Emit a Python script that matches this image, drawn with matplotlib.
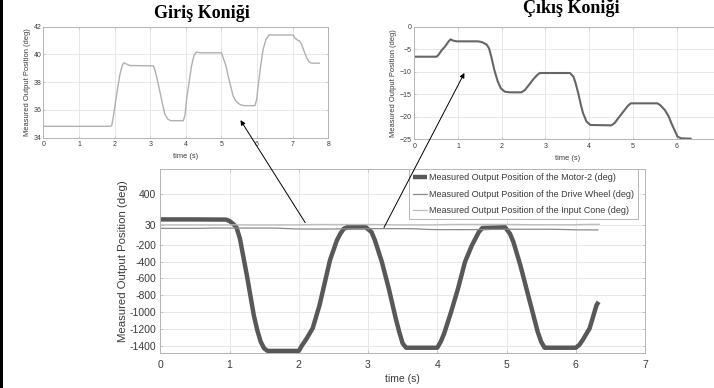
import matplotlib
matplotlib.use("Agg")
import matplotlib.pyplot as plt
from matplotlib.patches import FancyArrowPatch, Rectangle

plt.rcParams['font.family'] = ['Liberation Sans', 'DejaVu Sans']

# ---------------- data ----------------
t_in = [0, 1.85, 1.92, 1.96, 2.01, 2.08, 2.15, 2.21, 2.26, 2.36, 2.43, 3.09, 3.13, 3.2, 3.27,
        3.35, 3.41, 3.49, 3.57, 3.93, 3.98, 4.02, 4.09, 4.16, 4.23, 4.3, 4.4, 5.0, 5.05, 5.13,
        5.19, 5.26, 5.33, 5.41, 5.52, 5.63, 5.94, 5.99, 6.03, 6.1, 6.17, 6.25, 6.34, 6.45,
        7.02, 7.06, 7.13, 7.2, 7.25, 7.32, 7.39, 7.46, 7.53, 7.75]
input_cone = [34.82, 34.82, 34.87, 35.42, 36.27, 37.47, 38.55, 39.16, 39.4, 39.28, 39.2, 39.18,
              38.92, 38.19, 37.35, 36.39, 35.71, 35.35, 35.23, 35.22, 35.66, 36.75, 37.95, 39.16,
              39.93, 40.17, 40.12, 40.12, 39.76, 39.16, 38.43, 37.71, 36.99, 36.63, 36.39, 36.31,
              36.31, 36.75, 37.71, 39.16, 40.36, 41.08, 41.42, 41.4, 41.4, 41.2, 41.04, 40.96,
              40.72, 40.24, 39.76, 39.47, 39.37, 39.37]

t_dw = [0, 0.51, 0.55, 0.63, 0.7, 0.78, 0.83, 0.89, 0.97, 1.46, 1.54, 1.65, 1.71, 1.77, 1.83,
        1.91, 1.98, 2.07, 2.19, 2.45, 2.53, 2.62, 2.72, 2.81, 2.87, 3.56, 3.64, 3.69, 3.75, 3.81,
        3.86, 3.94, 4.03, 4.51, 4.59, 4.66, 4.78, 4.88, 4.95, 5.56, 5.62, 5.73, 5.82, 5.88, 5.95,
        6.02, 6.1, 6.32]
drive_wheel = [-6.68, -6.68, -6.3, -5.19, -4.45, -3.34, -2.82, -3.12, -3.26, -3.26, -3.41, -3.93,
               -4.82, -7.05, -9.64, -12.24, -13.72, -14.47, -14.61, -14.61, -14.1, -12.98, -11.72,
               -10.76, -10.31, -10.31, -11.13, -12.61, -14.84, -17.43, -19.29, -21.14, -21.88,
               -21.96, -21.36, -20.4, -18.92, -17.66, -17.06, -17.06, -17.43, -18.55, -20.03,
               -21.51, -23.0, -24.48, -24.85, -24.93]

t_m = [0, 0.5, 0.95, 1.0, 1.05, 1.1, 1.15, 1.25, 1.35, 1.4, 1.45, 1.5, 1.55, 2.0, 2.05, 2.1, 2.2,
       2.3, 2.4, 2.45, 2.5, 2.55, 2.6, 2.65, 2.7, 2.97, 3.05, 3.1, 3.2, 3.3, 3.4, 3.45, 3.5, 3.55,
       4.0, 4.05, 4.1, 4.2, 4.3, 4.4, 4.5, 4.6, 4.65, 4.98, 5.05, 5.1, 5.2, 5.3, 5.4, 5.45, 5.5,
       5.55, 6.0, 6.05, 6.1, 6.2, 6.3, 6.33]
motor2 = [99, 99, 97, 80, 48, 5, -129, -562, -1034, -1211, -1349, -1428, -1458, -1458, -1388,
          -1329, -1191, -916, -562, -385, -267, -149, -70, -11, 5, 5, -50, -149, -405, -720,
          -1073, -1231, -1369, -1420, -1420, -1349, -1250, -995, -719, -405, -208, -50, -3, 5,
          -70, -169, -444, -759, -1073, -1231, -1349, -1420, -1420, -1388, -1329, -1191, -916,
          -877]

main_yticks = [400, 30, -200, -400, -600, -800, -1000, -1200, -1400]
main_yticklabels = ['400', '30', '-200', '-400', '-600', '-800', '-1000', '-1200', '-1400']
main_xticks = [0, 1, 2, 3, 4, 5, 6, 7]
in_yticks = [34, 36, 38, 40, 42]
in_xticks = [0, 1, 2, 3, 4, 5, 6, 7, 8]
dw_yticks = [-25, -20, -15, -10, -5, 0]
dw_xticks = [0, 1, 2, 3, 4, 5, 6]

legend_labels = ['Measured Output Position of the Motor-2 (deg)',
                 'Measured Output Position of the Drive Wheel (deg)',
                 'Measured Output Position of the Input Cone (deg)']
ylab = 'Measured Output Position (deg)'
xlab = 'time (s)'
title_in = 'Giriş Koniği'
title_out = 'Çıkış Koniği'

# ---------------- figure ----------------
W, H = 714, 388
fig = plt.figure(figsize=(W / 100, H / 100), dpi=100)


def px_axes(x0, x1, ytop, ybot):
    return fig.add_axes([x0 / W, 1 - ybot / H, (x1 - x0) / W, (ybot - ytop) / H])


TXT = '#3a3a3a'
SPINE = '#b5b5b5'
GRID = '#e4e4e4'


def style(ax, fs, xpad, ypad, length):
    for s in ax.spines.values():
        s.set_color(SPINE)
        s.set_linewidth(0.7)
    ax.tick_params(direction='in', length=length, width=0.5, colors=SPINE, labelcolor=TXT,
                   labelsize=fs, top=True, right=True)
    ax.tick_params(axis='x', pad=xpad)
    ax.tick_params(axis='y', pad=ypad)
    ax.grid(True, color=GRID, linewidth=0.6)
    ax.set_axisbelow(True)


# top-left: input cone
ax1 = px_axes(43.3, 328.3, 26.7, 137.7)
ax1.plot(t_in, input_cone, color='#b0b0b0', lw=1.0)
ax1.set_xlim(0, 8)
ax1.set_ylim(34, 42)
ax1.set_xticks(in_xticks)
ax1.set_yticks(in_yticks)
style(ax1, 5, 2.7, 1, 1.5)
ax1.set_ylabel(ylab, fontsize=5.4, color=TXT, labelpad=2)
ax1.set_xlabel(xlab, fontsize=5.4, color=TXT, labelpad=3.5)

# top-right: drive wheel
ax2 = px_axes(414.3, 720.4, 26.7, 139.0)
ax2.plot(t_dw, drive_wheel, color='#666666', lw=1.5)
ax2.set_xlim(0, 7)
ax2.set_ylim(-25, 0)
ax2.set_xticks(dw_xticks)
ax2.set_yticks(dw_yticks)
style(ax2, 5, 2.7, 2, 1.5)
ax2.set_ylabel(ylab, fontsize=5.4, color=TXT, labelpad=2)
ax2.set_xlabel(xlab, fontsize=5.4, color=TXT, labelpad=3.5)

# main
ax3 = px_axes(160.3, 645.0, 169.0, 353.3)
t_in_main = [t for t in t_in if t <= 6.34]
ic_main = input_cone[:len(t_in_main)]
l1, = ax3.plot(t_m, motor2, color='#585858', lw=3.2, solid_capstyle='butt')
l2, = ax3.plot(t_dw, drive_wheel, color='#8a8a8a', lw=0.9)
l3, = ax3.plot(t_in_main, ic_main, color='#bcbcbc', lw=0.9)
ax3.set_xlim(0, 7)
ax3.set_ylim(-1486, 696)
ax3.set_xticks(main_xticks)
ax3.set_yticks(main_yticks)
ax3.set_yticklabels(main_yticklabels)
style(ax3, 7.5, 4.7, 3, 2)
ax3.set_ylabel(ylab, fontsize=8.2, color=TXT, labelpad=1.0)
ax3.set_xlabel(xlab, fontsize=7.5, color=TXT, labelpad=3)
leg = ax3.legend([l1, l2, l3], legend_labels, loc='upper right', bbox_to_anchor=(0.9856, 1.0),
                 borderaxespad=0, fontsize=6.5, handlelength=1.6, handletextpad=0.2,
                 labelspacing=0.85, fancybox=False, framealpha=1, borderpad=0.45)
leg.get_frame().set_edgecolor(SPINE)
leg.get_frame().set_linewidth(0.7)
for t in leg.get_texts():
    t.set_color(TXT)

# titles
fig.text(202 / W, 1 - 13.5 / H, title_in, ha='center', va='center', fontsize=13,
         fontweight='bold', family=['Liberation Serif', 'DejaVu Serif'])
fig.text(571.5 / W, 1 - 8.5 / H, title_out, ha='center', va='center', fontsize=13,
         fontweight='bold', family=['Liberation Serif', 'DejaVu Serif'])

# arrows
for (x0, y0), (x1, y1) in [((306.7, 225.0), (239.0, 117.8)), ((382.7, 230.0), (465.7, 70.5))]:
    arr = FancyArrowPatch((x0 / W, 1 - y0 / H), (x1 / W, 1 - y1 / H), transform=fig.transFigure,
                          arrowstyle='-|>', mutation_scale=7, lw=0.7, color='black')
    fig.add_artist(arr)

# left black border
fig.add_artist(Rectangle((0, 0), 3.2 / W, 1, transform=fig.transFigure, color='black', lw=0))

fig.savefig('out.png', dpi=100)
